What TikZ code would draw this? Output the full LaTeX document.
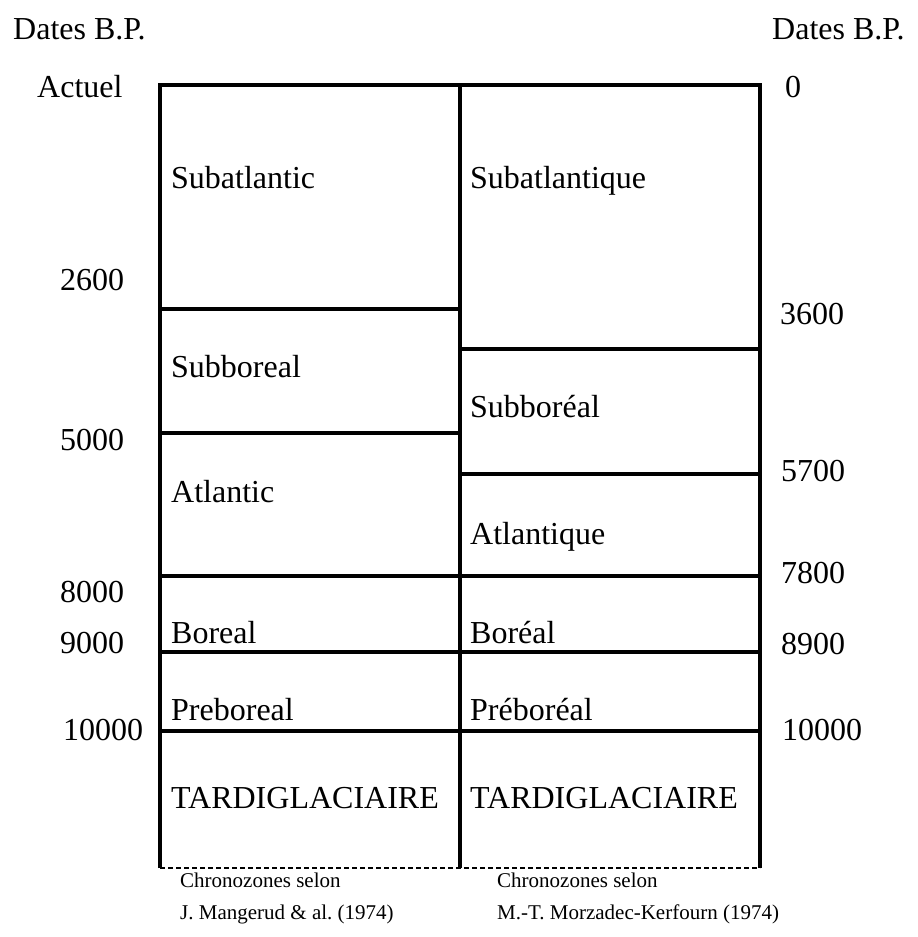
\documentclass[tikz,border=0pt]{standalone}
\usepackage{fontspec}
\setmainfont{Liberation Serif}
\newfontfamily\tnr{Liberation Serif}
\frenchspacing
\begin{document}
\begin{tikzpicture}[x=1pt,y=-1pt,
  big/.style={font=\tnr\fontsize{32}{38}\selectfont, inner sep=0pt, anchor=base west},
  small/.style={font=\tnr\fontsize{21}{28}\selectfont, inner sep=0pt, anchor=base west},
  frame/.style={line width=4.5pt, line join=miter},
  bottomline/.style={line width=1.2pt, dash pattern=on 5pt off 3pt}
]
\useasboundingbox (0,0) rectangle (918,937);
% grid coordinates
\coordinate (L0) at (160,85);  \coordinate (M0) at (460,85);  \coordinate (R0) at (760,85);
\coordinate (Lb) at (160,868); \coordinate (Mb) at (460,868); \coordinate (Rb) at (760,868);
% outer frame and middle divider
\draw[frame] (Lb) -- (L0) -- (R0) -- (Rb);
\draw[frame] (M0) -- (Mb);
% left column boundaries
\foreach \y/\n in {309/a,433/b,576/c,652/d,731/e}{
  \coordinate (l\n1) at (160,\y); \coordinate (l\n2) at (460,\y);
  \draw[frame] (l\n1) -- (l\n2);
}
% right column boundaries
\foreach \y/\n in {349/a,474/b,576/c,652/d,731/e}{
  \coordinate (r\n1) at (460,\y); \coordinate (r\n2) at (760,\y);
  \draw[frame] (r\n1) -- (r\n2);
}
% dashed bottom
\draw[bottomline] (Lb) -- (Rb);

% headers
\node[big] (hl) at (13,39) {Dates B.P.};
\node[big] (hr) at (772,39) {Dates B.P.};
\node[big] (act) at (37,97) {Actuel};
\node[big] (zero) at (785,97) {0};

% left dates
\node[big] (d2600) at (60,290) {2600};
\node[big] (d5000) at (60,450) {5000};
\node[big] (d8000) at (60,602) {8000};
\node[big] (d9000) at (60,653) {9000};
\node[big] (d10000l) at (63,740) {10000};

% right dates
\node[big] (d3600) at (780,324) {3600};
\node[big] (d5700) at (781,481) {5700};
\node[big] (d7800) at (781,583) {7800};
\node[big] (d8900) at (781,654) {8900};
\node[big] (d10000r) at (782,740) {10000};

% left zones
\node[big] (zl1) at (171,188) {Subatlantic};
\node[big] (zl2) at (171,377) {Subboreal};
\node[big] (zl3) at (171,502) {Atlantic};
\node[big] (zl4) at (171,643) {Boreal};
\node[big] (zl5) at (171,720) {Preboreal};
\node[big] (zl6) at (171,808) {TARDIGLACIAIRE};

% right zones
\node[big] (zr1) at (470,188) {Subatlantique};
\node[big] (zr2) at (470,417) {Subboréal};
\node[big] (zr3) at (470,544) {Atlantique};
\node[big] (zr4) at (470,643) {Boréal};
\node[big] (zr5) at (470,720) {Préboréal};
\node[big] (zr6) at (470,808) {TARDIGLACIAIRE};

% captions
\node[small] (cl1) at (180,887) {Chronozones selon};
\node[small] (cl2) at (180,919) {J. Mangerud \& al. (1974)};
\node[small] (cr1) at (497,887) {Chronozones selon};
\node[small] (cr2) at (497,919) {M.-T. Morzadec-Kerfourn (1974)};
\end{tikzpicture}
\end{document}
